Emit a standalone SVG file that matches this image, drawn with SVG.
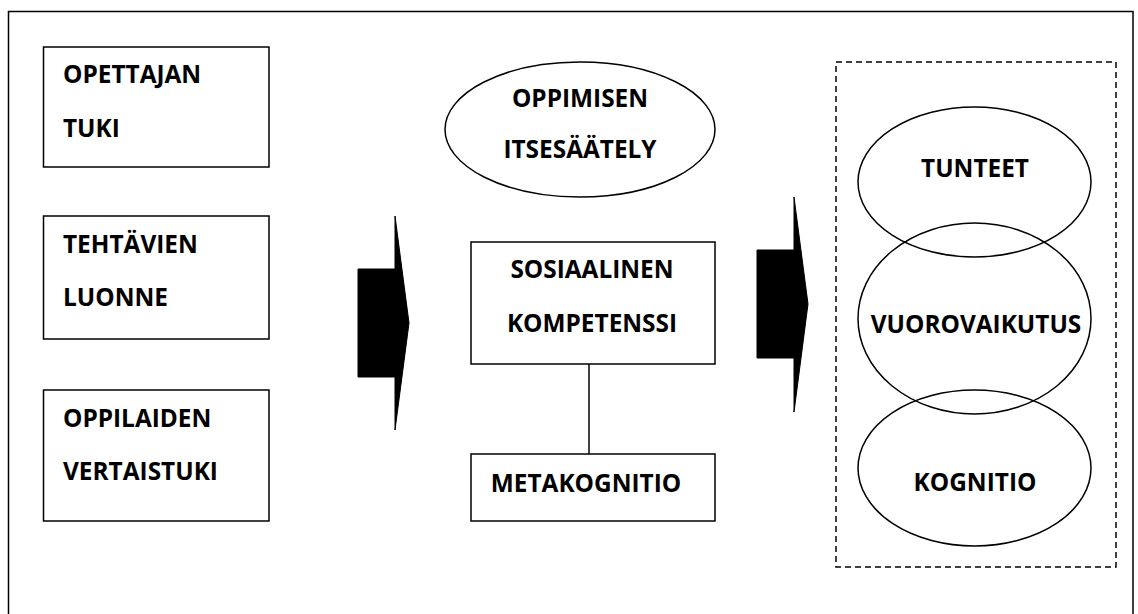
<svg xmlns="http://www.w3.org/2000/svg" width="1138" height="614" viewBox="0 0 1138 614">
<style>
.box{fill:#fff;stroke:#000;stroke-width:1.5}
.ell{fill:none;stroke:#000;stroke-width:1.5}
.t{font-family:"Open Sans","Liberation Sans",sans-serif;font-weight:700;font-size:24.4px;fill:#000}
.c{text-anchor:middle}
.arrow{fill:#000;stroke:#000;stroke-width:1}
.conn{stroke:#000;stroke-width:1.5;fill:none}
</style>
<rect x="0" y="0" width="1138" height="614" fill="#fff"/>
<rect id="frame" x="8.5" y="11.5" width="1124.5" height="620" fill="none" stroke="#000" stroke-width="1.5"/>
<g id="opettajan-tuki">
<rect class="box" x="43.5" y="47" width="225.5" height="120"/>
<text class="t" x="63" y="83">OPETTAJAN</text>
<text class="t" x="63" y="137">TUKI</text>
</g>
<g id="tehtavien-luonne">
<rect class="box" x="43.5" y="216" width="225.5" height="123"/>
<text class="t" x="63" y="253">TEHTÄVIEN</text>
<text class="t" x="63" y="306">LUONNE</text>
</g>
<g id="oppilaiden-vertaistuki">
<rect class="box" x="43.5" y="390" width="225.5" height="131"/>
<text class="t" x="63" y="427">OPPILAIDEN</text>
<text class="t" x="63" y="480">VERTAISTUKI</text>
</g>
<g id="arrow1">
<polygon class="arrow" points="358,269 395,269 395,216 409,323 395,430 395,377 358,377"/>
</g>
<g id="oppimisen-itsesaately">
<ellipse class="ell" cx="580" cy="129.5" rx="135" ry="67.5"/>
<text class="t c" x="580" y="107">OPPIMISEN</text>
<text class="t c" x="580" y="158">ITSESÄÄTELY</text>
</g>
<g id="connectors">
<line class="conn" x1="589" y1="364" x2="589" y2="454"/>
</g>
<g id="sosiaalinen-kompetenssi">
<rect class="box" x="471" y="242" width="244" height="122"/>
<text class="t c" x="592" y="278">SOSIAALINEN</text>
<text class="t c" x="592" y="332">KOMPETENSSI</text>
</g>
<g id="metakognitio">
<rect class="box" x="471" y="454" width="244" height="67"/>
<text class="t c" x="586" y="492">METAKOGNITIO</text>
</g>
<g id="arrow2">
<polygon class="arrow" points="757,250 794,250 794,197 808,304 794,412 794,358 757,358"/>
</g>
<g id="group-box">
<rect x="836" y="62" width="280" height="505" fill="none" stroke="#000" stroke-width="1.5" stroke-dasharray="6,4"/>
</g>
<g id="tunteet">
<ellipse class="ell" cx="974.5" cy="182" rx="116.5" ry="75"/>
<text class="t c" x="975" y="177">TUNTEET</text>
</g>
<g id="vuorovaikutus">
<ellipse class="ell" cx="974.5" cy="318.5" rx="116.5" ry="95.5"/>
<text class="t c" x="976" y="333">VUOROVAIKUTUS</text>
</g>
<g id="kognitio">
<ellipse class="ell" cx="974.5" cy="468" rx="116.5" ry="78"/>
<text class="t c" x="975" y="491">KOGNITIO</text>
</g>
</svg>
